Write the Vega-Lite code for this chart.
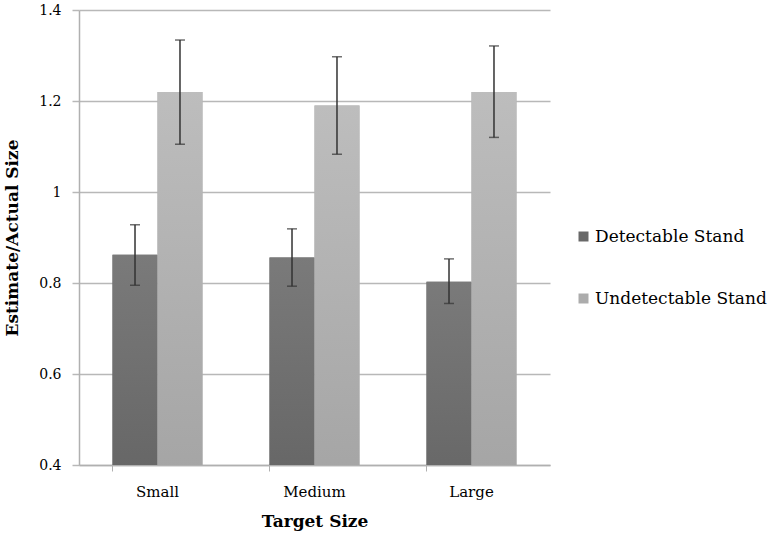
{
  "$schema": "https://vega.github.io/schema/vega-lite/v6.json",
  "autosize": "none",
  "width": 471,
  "height": 455,
  "padding": {"left": 79, "top": 10, "right": 224, "bottom": 77},
  "background": "white",
  "config": {
    "font": "DejaVu Serif",
    "view": {"stroke": null},
    "axis": {"labelFont": "DejaVu Serif", "titleFont": "DejaVu Serif", "labelColor": "#000", "titleColor": "#000", "domainColor": "#b0b0b0", "tickColor": "#b0b0b0", "gridColor": "#b8b8b8", "gridWidth": 1.5}
  },
  "data": {
    "values": [
      {"target": "Small", "stand": "Detectable Stand", "mean": 0.862, "lo": 0.795, "hi": 0.928},
      {"target": "Small", "stand": "Undetectable Stand", "mean": 1.22, "lo": 1.105, "hi": 1.334},
      {"target": "Medium", "stand": "Detectable Stand", "mean": 0.856, "lo": 0.793, "hi": 0.919},
      {"target": "Medium", "stand": "Undetectable Stand", "mean": 1.19, "lo": 1.083, "hi": 1.297},
      {"target": "Large", "stand": "Detectable Stand", "mean": 0.803, "lo": 0.755, "hi": 0.853},
      {"target": "Large", "stand": "Undetectable Stand", "mean": 1.22, "lo": 1.12, "hi": 1.321}
    ]
  },
  "encoding": {
    "x": {
      "field": "target", "type": "nominal", "sort": ["Small", "Medium", "Large"],
      "scale": {"paddingInner": 0.427, "paddingOuter": 0.2135},
      "axis": {"title": "Target Size", "labelAngle": 0, "labelFontSize": 15, "labelPadding": 13, "titleFontSize": 17, "titleFontWeight": "bold", "titlePadding": 14, "bandPosition": 0, "tickSize": 6, "tickWidth": 1, "domainWidth": 1.5}
    },
    "xOffset": {"field": "stand", "type": "nominal", "sort": ["Detectable Stand", "Undetectable Stand"], "scale": {"paddingInner": 0, "paddingOuter": 0}},
    "y": {
      "field": "mean", "type": "quantitative",
      "scale": {"domain": [0.4, 1.4], "zero": false, "nice": false},
      "axis": {"title": "Estimate/Actual Size", "values": [0.4, 0.6, 0.8, 1, 1.2, 1.4], "labelExpr": "datum.value == 1 ? '1' : format(datum.value, '.1f')", "labelFontSize": 14, "labelPadding": 11, "titleFontSize": 17, "titleFontWeight": "bold", "titlePadding": 17, "tickSize": 7, "tickWidth": 1.5, "tickColor": "#b8b8b8", "domainWidth": 1.5}
    }
  },
  "layer": [
    {
      "mark": {"type": "bar", "clip": true},
      "encoding": {
        "color": {
          "field": "stand", "type": "nominal",
          "scale": {"domain": ["Detectable Stand", "Undetectable Stand"], "range": ["#686868", "#acacac"]},
          "legend": {"title": null, "orient": "none", "legendX": 496, "legendY": 218, "symbolType": "square", "symbolSize": 100, "symbolStrokeWidth": 0, "labelFontSize": 17, "labelFont": "DejaVu Serif", "labelColor": "#000", "labelLimit": 400, "rowPadding": 44, "labelOffset": 3}
        }
      }
    },
    {
      "transform": [{"filter": "datum.stand === 'Detectable Stand'"}],
      "mark": {"type": "bar", "clip": true, "fill": {"gradient": "linear", "x1": 0, "y1": 0, "x2": 0, "y2": 1, "stops": [{"offset": 0, "color": "#7a7a7a"}, {"offset": 1, "color": "#575757"}]}}
    },
    {
      "transform": [{"filter": "datum.stand === 'Undetectable Stand'"}],
      "mark": {"type": "bar", "clip": true, "fill": {"gradient": "linear", "x1": 0, "y1": 0, "x2": 0, "y2": 1, "stops": [{"offset": 0, "color": "#bdbdbd"}, {"offset": 1, "color": "#9a9a9a"}]}}
    },
    {
      "mark": {"type": "rule", "color": "#333333", "strokeWidth": 1.5},
      "encoding": {"y": {"field": "lo", "type": "quantitative"}, "y2": {"field": "hi"}}
    },
    {
      "mark": {"type": "tick", "color": "#333333", "thickness": 1.5, "size": 10, "orient": "horizontal"},
      "encoding": {"y": {"field": "lo", "type": "quantitative"}}
    },
    {
      "mark": {"type": "tick", "color": "#333333", "thickness": 1.5, "size": 10, "orient": "horizontal"},
      "encoding": {"y": {"field": "hi", "type": "quantitative"}}
    }
  ]
}
